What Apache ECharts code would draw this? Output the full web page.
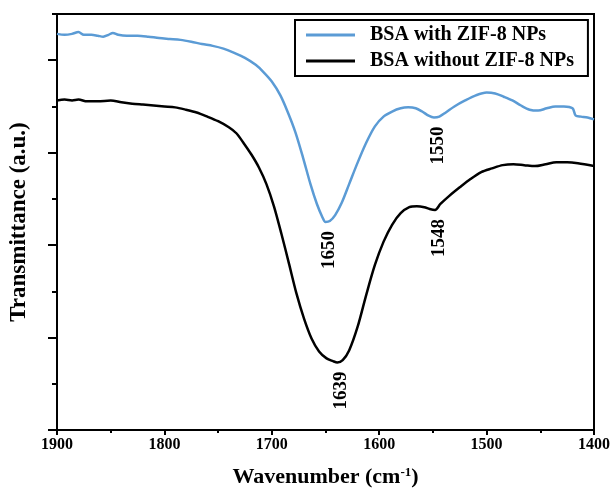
<!DOCTYPE html>
<html>
<head>
<meta charset="utf-8">
<script src="https://cdn.jsdelivr.net/npm/echarts@6/dist/echarts.min.js"></script>
<style>
  html, body { margin: 0; padding: 0; background: #fff; }
  #chart { width: 613px; height: 493px; }
</style>
</head>
<body>
<div id="chart"></div>
<script>
// FTIR spectra, wavenumber (cm-1) vs transmittance (a.u.)
var withZif = [
    [1900, 8.57], [1893, 8.55], [1886, 8.57], [1880, 8.61], [1875, 8.55], [1868, 8.55],
    [1862, 8.53], [1857, 8.51], [1852, 8.55], [1848, 8.59], [1843, 8.55], [1835, 8.53],
    [1825, 8.53], [1815, 8.51], [1805, 8.48], [1795, 8.46], [1785, 8.44], [1775, 8.40],
    [1765, 8.35], [1755, 8.31], [1745, 8.25], [1735, 8.16], [1725, 8.05], [1715, 7.90],
    [1708, 7.75], [1700, 7.54], [1692, 7.24], [1685, 6.87], [1678, 6.44], [1671, 5.90],
    [1664, 5.32], [1658, 4.89], [1653, 4.61], [1650, 4.50], [1646, 4.52], [1641, 4.65],
    [1635, 4.91], [1628, 5.32], [1620, 5.79], [1612, 6.22], [1604, 6.57], [1596, 6.78],
    [1588, 6.89], [1580, 6.96], [1573, 6.98], [1566, 6.96], [1560, 6.89], [1554, 6.80],
    [1549, 6.76], [1544, 6.78], [1538, 6.87], [1530, 7.00], [1520, 7.13], [1510, 7.24],
    [1500, 7.30], [1492, 7.28], [1484, 7.21], [1476, 7.13], [1468, 7.02], [1460, 6.93],
    [1452, 6.91], [1444, 6.96], [1436, 7.00], [1428, 7.00], [1420, 6.96], [1417, 6.80],
    [1412, 6.78], [1406, 6.76], [1400, 6.72]
];
var withoutZif = [
    [1900, 7.13], [1893, 7.15], [1886, 7.13], [1880, 7.15], [1872, 7.11], [1862, 7.11],
    [1850, 7.13], [1840, 7.09], [1830, 7.06], [1820, 7.04], [1810, 7.02], [1800, 7.00],
    [1790, 6.98], [1780, 6.93], [1770, 6.87], [1760, 6.78], [1750, 6.68], [1740, 6.55],
    [1733, 6.42], [1726, 6.20], [1719, 5.96], [1712, 5.68], [1705, 5.32], [1698, 4.84],
    [1691, 4.24], [1684, 3.60], [1677, 2.95], [1670, 2.41], [1663, 1.98], [1656, 1.70],
    [1649, 1.55], [1643, 1.49], [1639, 1.46], [1634, 1.51], [1628, 1.72], [1620, 2.24],
    [1612, 2.93], [1604, 3.57], [1596, 4.07], [1588, 4.44], [1580, 4.69], [1572, 4.82],
    [1565, 4.84], [1558, 4.82], [1553, 4.78], [1548, 4.76], [1543, 4.89], [1535, 5.06],
    [1525, 5.25], [1515, 5.43], [1505, 5.58], [1495, 5.66], [1485, 5.73], [1475, 5.75],
    [1465, 5.73], [1455, 5.71], [1445, 5.75], [1435, 5.79], [1425, 5.79], [1415, 5.77],
    [1400, 5.71]
];
// peak annotations: [wavenumber, transmittance, text]
var peaksWith = [[1650, 4.50, '1650'], [1549, 6.76, '1550']];
var peaksWithout = [[1639, 1.46, '1639'], [1548, 4.76, '1548']];
var seriesNames = ['BSA with ZIF-8 NPs', 'BSA without ZIF-8 NPs'];
var yLongTicks = [0, 2, 4, 6, 8];

var serif = 'Liberation Serif, Times New Roman, serif';

function peakMarks(peaks) {
    var data = [];
    for (var i = 0; i < peaks.length; ++i) {
        data.push({ name: peaks[i][2], coord: [peaks[i][0], peaks[i][1]] });
    }
    return {
        symbol: 'circle',
        symbolSize: 0,
        silent: true,
        label: {
            show: true,
            formatter: '{b}',
            rotate: 90,
            position: 'inside',
            // offset is in the rotated frame: -x moves the text down the page
            offset: [-28, 4],
            color: '#000',
            fontFamily: serif,
            fontWeight: 'bold',
            fontSize: 19
        },
        data: data
    };
}

var chart = echarts.init(document.getElementById('chart'), null, { renderer: 'canvas' });
var option = {
    backgroundColor: '#fff',
    animation: false,
    grid: {
        left: 57, right: 18, top: 14, bottom: 61,
        show: true, borderColor: '#000', borderWidth: 2
    },
    legend: {
        orient: 'vertical',
        left: 295, top: 20,
        data: seriesNames,
        icon: 'rect',
        itemWidth: 49,
        itemHeight: 3,
        itemGap: 6,
        padding: [5, 14, 5, 11],
        borderColor: '#000',
        borderWidth: 2,
        textStyle: {
            fontFamily: serif, fontWeight: 'bold', fontSize: 20, color: '#000',
            padding: [0, 0, 0, 10]
        }
    },
    xAxis: {
        type: 'value',
        inverse: true,
        min: 1400, max: 1900, interval: 100,
        name: 'Wavenumber (cm{sup|-1})',
        nameLocation: 'middle',
        nameGap: 36,
        nameTextStyle: {
            fontFamily: serif, fontWeight: 'bold', fontSize: 22, color: '#000',
            rich: { sup: { fontFamily: serif, fontWeight: 'bold', fontSize: 13, verticalAlign: 'top', padding: [0, 0, 9, 0] } }
        },
        axisLine: { lineStyle: { color: '#000', width: 2 } },
        axisTick: { length: 5, lineStyle: { color: '#000', width: 2 } },
        minorTick: { show: true, splitNumber: 2, length: 3, lineStyle: { color: '#000', width: 2 } },
        axisLabel: {
            margin: 7, fontFamily: serif, fontWeight: 'bold', fontSize: 16, color: '#000',
            formatter: function (v) { return String(v); }
        },
        splitLine: { show: false }
    },
    yAxis: [{
        type: 'value',
        min: 0, max: 9, interval: 1,
        name: 'Transmittance (a.u.)',
        nameLocation: 'middle',
        nameGap: 26,
        nameTextStyle: { fontFamily: serif, fontWeight: 'bold', fontSize: 23, color: '#000' },
        axisLine: { lineStyle: { color: '#000', width: 2 } },
        axisTick: { length: 5, lineStyle: { color: '#000', width: 2 } },
        axisLabel: { show: false },
        splitLine: { show: false }
    }, {
        type: 'value',
        position: 'left',
        min: 0, max: 9,
        axisLine: { show: false },
        axisTick: { length: 9, customValues: yLongTicks, lineStyle: { color: '#000', width: 2 } },
        axisLabel: { show: false },
        splitLine: { show: false }
    }],
    series: [{
        name: seriesNames[0],
        type: 'line',
        data: withZif,
        symbol: 'none',
        smooth: 0.3,
        color: '#5b9bd5',
        lineStyle: { color: '#5b9bd5', width: 2.5 },
        markPoint: peakMarks(peaksWith)
    }, {
        name: seriesNames[1],
        type: 'line',
        data: withoutZif,
        symbol: 'none',
        smooth: 0.3,
        color: '#000',
        lineStyle: { color: '#000', width: 2.5 },
        markPoint: peakMarks(peaksWithout)
    }]
};
chart.setOption(option);
</script>
</body>
</html>
